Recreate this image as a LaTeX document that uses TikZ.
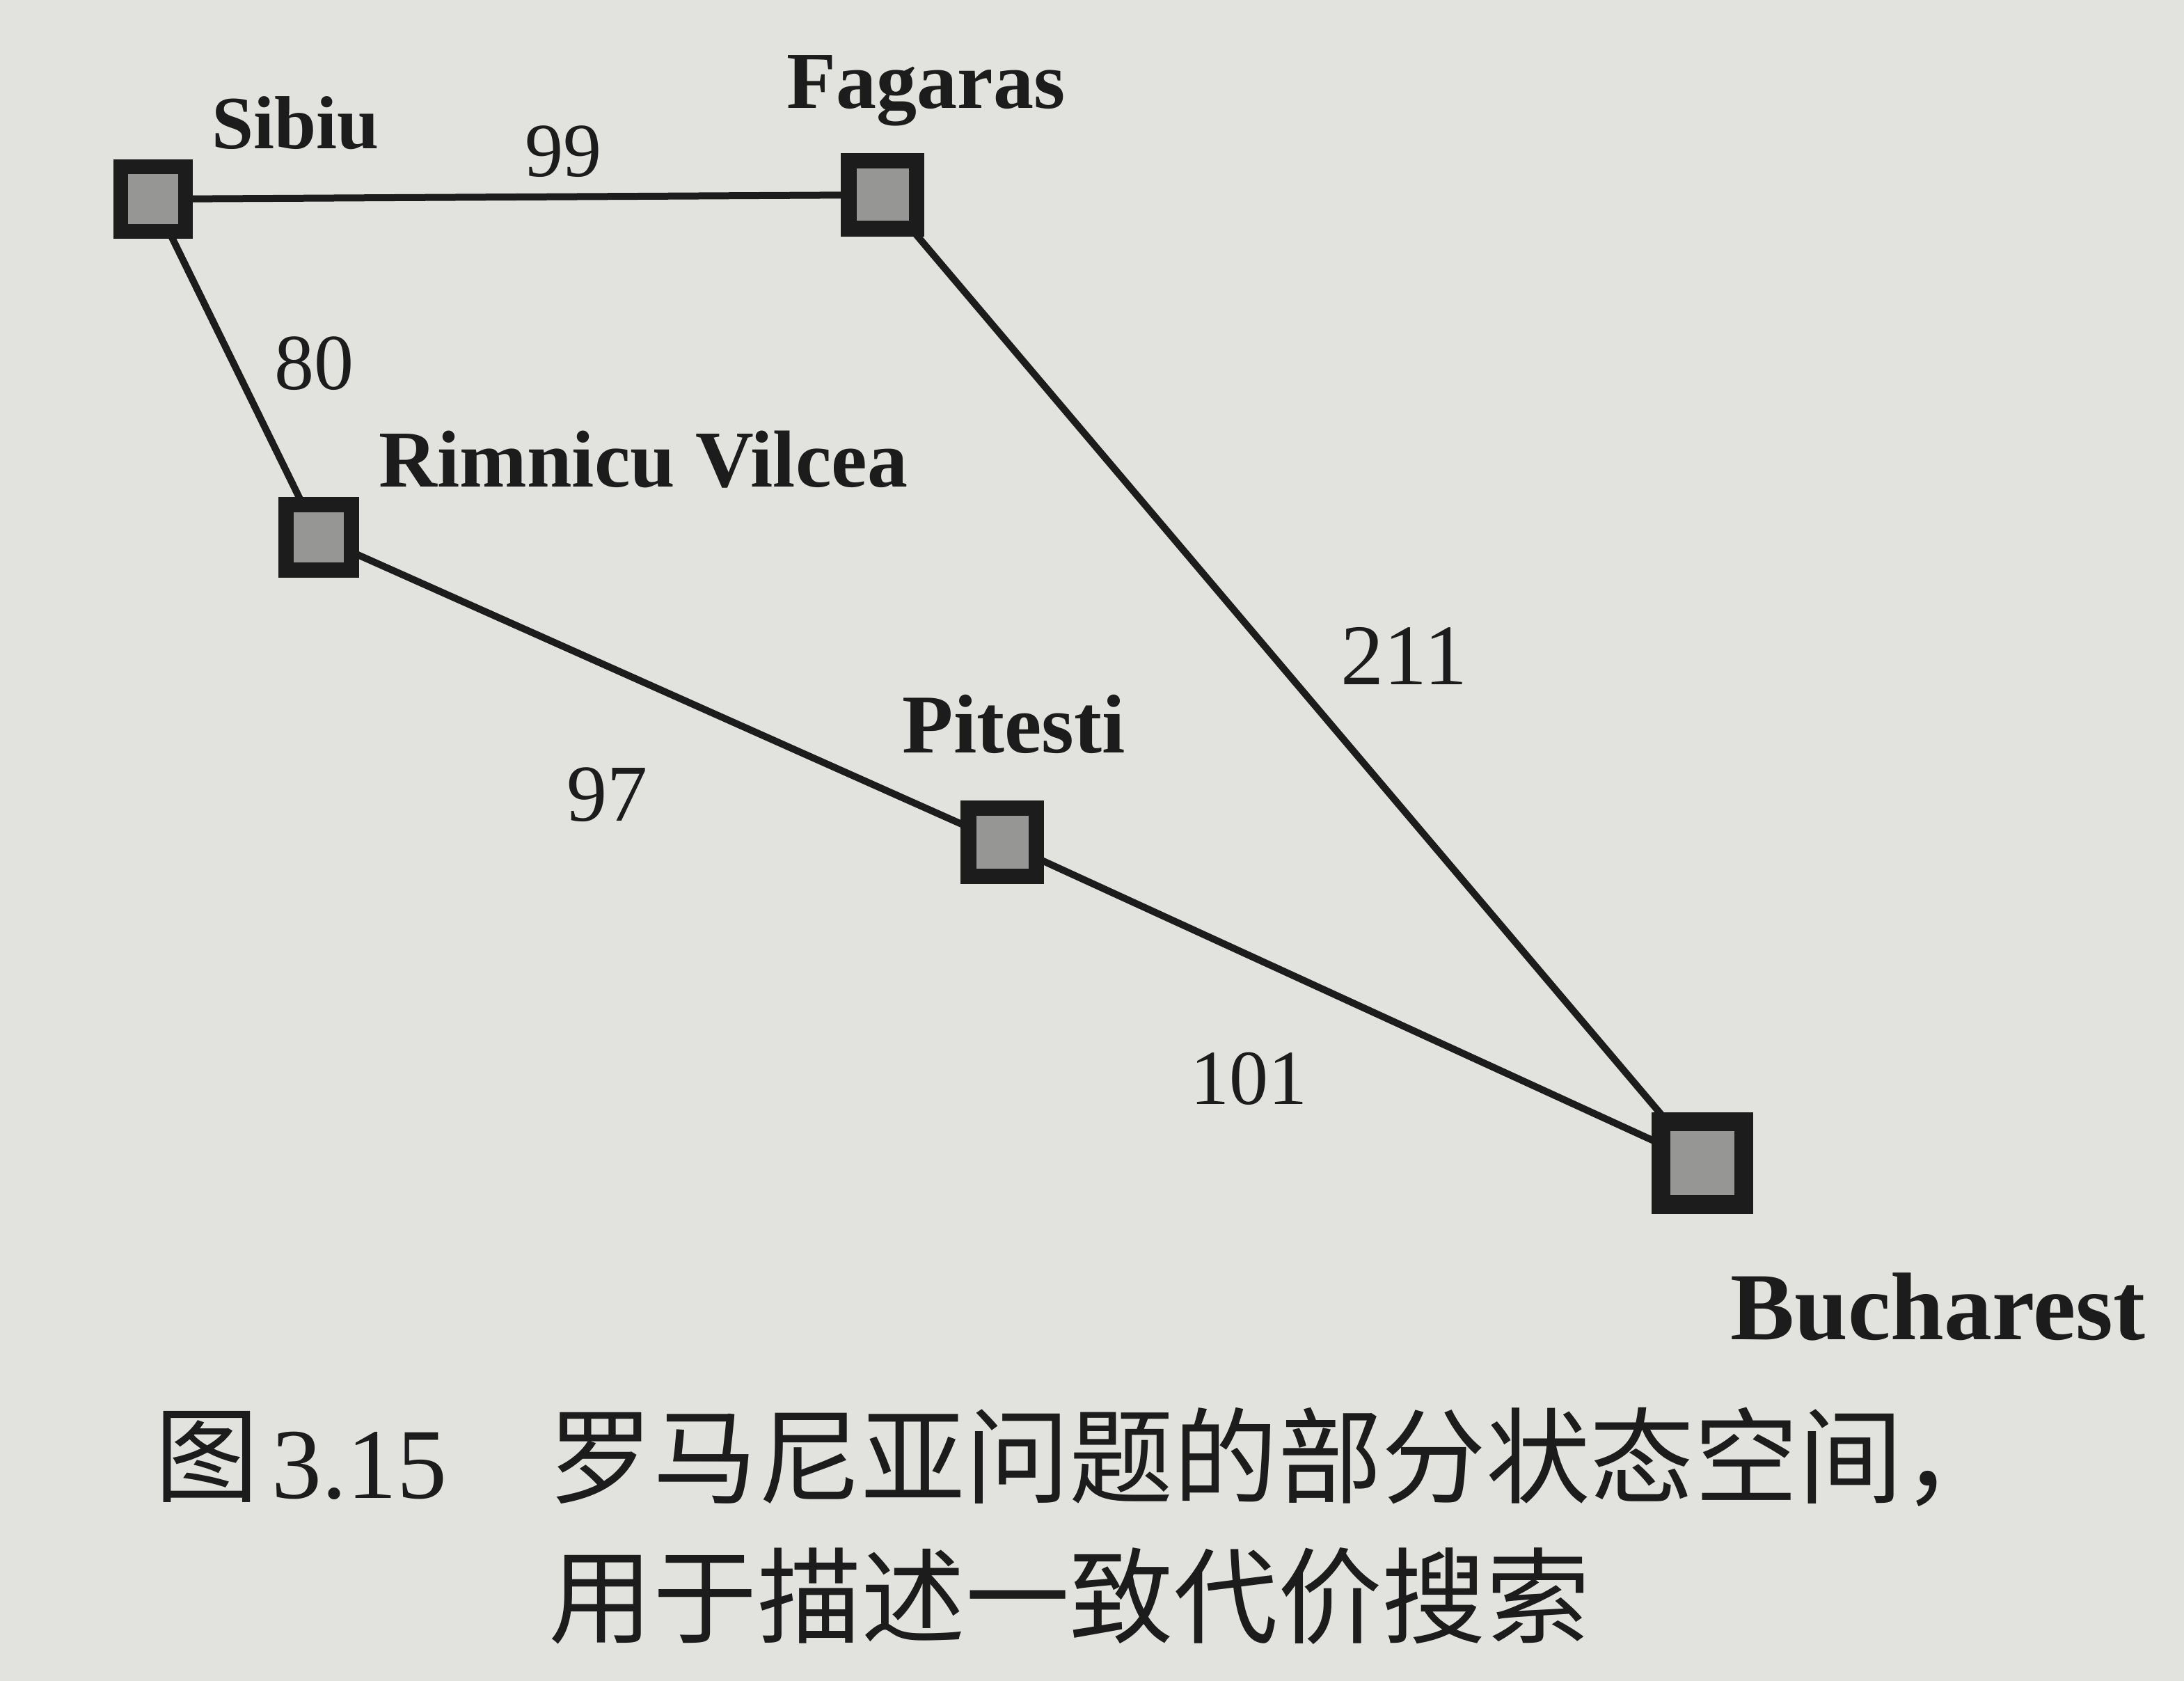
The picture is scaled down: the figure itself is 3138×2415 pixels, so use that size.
\documentclass[tikz,border=0pt]{standalone}
\usepackage{fontspec}
\setmainfont{Liberation Serif}
\newfontfamily\cjk{Noto Sans CJK SC}
\usetikzlibrary{backgrounds}
\definecolor{ink}{RGB}{28,28,28}
\definecolor{paper}{RGB}{226,226,222}
\definecolor{cellfill}{RGB}{150,150,148}
\tikzset{
  city/.style={draw=ink, fill=cellfill, line width=#1*0.0467pt, minimum size=#1*0.203pt, inner sep=0pt, rectangle},
  citylabel/.style={anchor=base west, inner sep=0pt, text=ink, font=\bfseries\fontsize{#1}{#1}\selectfont},
  cost/.style={anchor=base west, inner sep=0pt, text=ink, font=\fontsize{#1}{#1}\selectfont},
  road/.style={draw=ink, line width=2.5pt},
  captext/.style={anchor=west, inner sep=0pt, text=ink, font=\cjk\fontsize{37.4}{40}\selectfont},
  capnum/.style={anchor=base west, inner sep=0pt, text=ink, font=\fontsize{36}{40}\selectfont}
}
\begin{document}
\begin{tikzpicture}[x=0.25pt, y=-0.25pt]
\useasboundingbox (0,0) rectangle (3138,2415);
% nodes
\node[city=115] (S) at (220,286) {};
\node[city=120] (F) at (1268,280) {};
\node[city=116] (R) at (458,772) {};
\node[city=120] (P) at (1440,1210) {};
\node[city=147] (B) at (2446,1671) {};
% labels
\node[citylabel=27] (Sl) at (304,214) {Sibiu};
\node[citylabel=29] (Fl) at (1130,156) {Fagaras};
\node[citylabel=29] (Rl) at (544,700) {Rimnicu Vilcea};
\node[citylabel=30] (Pl) at (1296,1082) {Pitesti};
\node[citylabel=34.5] (Bl) at (2486,1924) {Bucharest};
% costs
\node[cost=27.5] (c99) at (754,254) {99};
\node[cost=28.5] (c80) at (394,560) {80};
\node[cost=31] (c211) at (1926,984) {211};
\node[cost=29] (c97) at (814,1180) {97};
\node[cost=28] (c101) at (1710,1586) {101};
% caption
\node[captext] (fig) at (222,2093) {图};
\node[capnum] (fignum) at (390,2152) {3.15};
\node[captext] (cap1) at (788,2093) {罗马尼亚问题的部分状态空间，};
\node[captext] (cap2) at (788,2293) {用于描述一致代价搜索};
% roads
\begin{pgfonlayer}{background}
\fill[paper] (0,0) rectangle (3138,2415);
\draw[road] (S.center) -- (F.center);
\draw[road] (S.center) -- (R.center);
\draw[road] (R.center) -- (P.center);
\draw[road] (P.center) -- (B.center);
\draw[road] (F.center) -- (B.center);
\end{pgfonlayer}
\end{tikzpicture}
\end{document}
